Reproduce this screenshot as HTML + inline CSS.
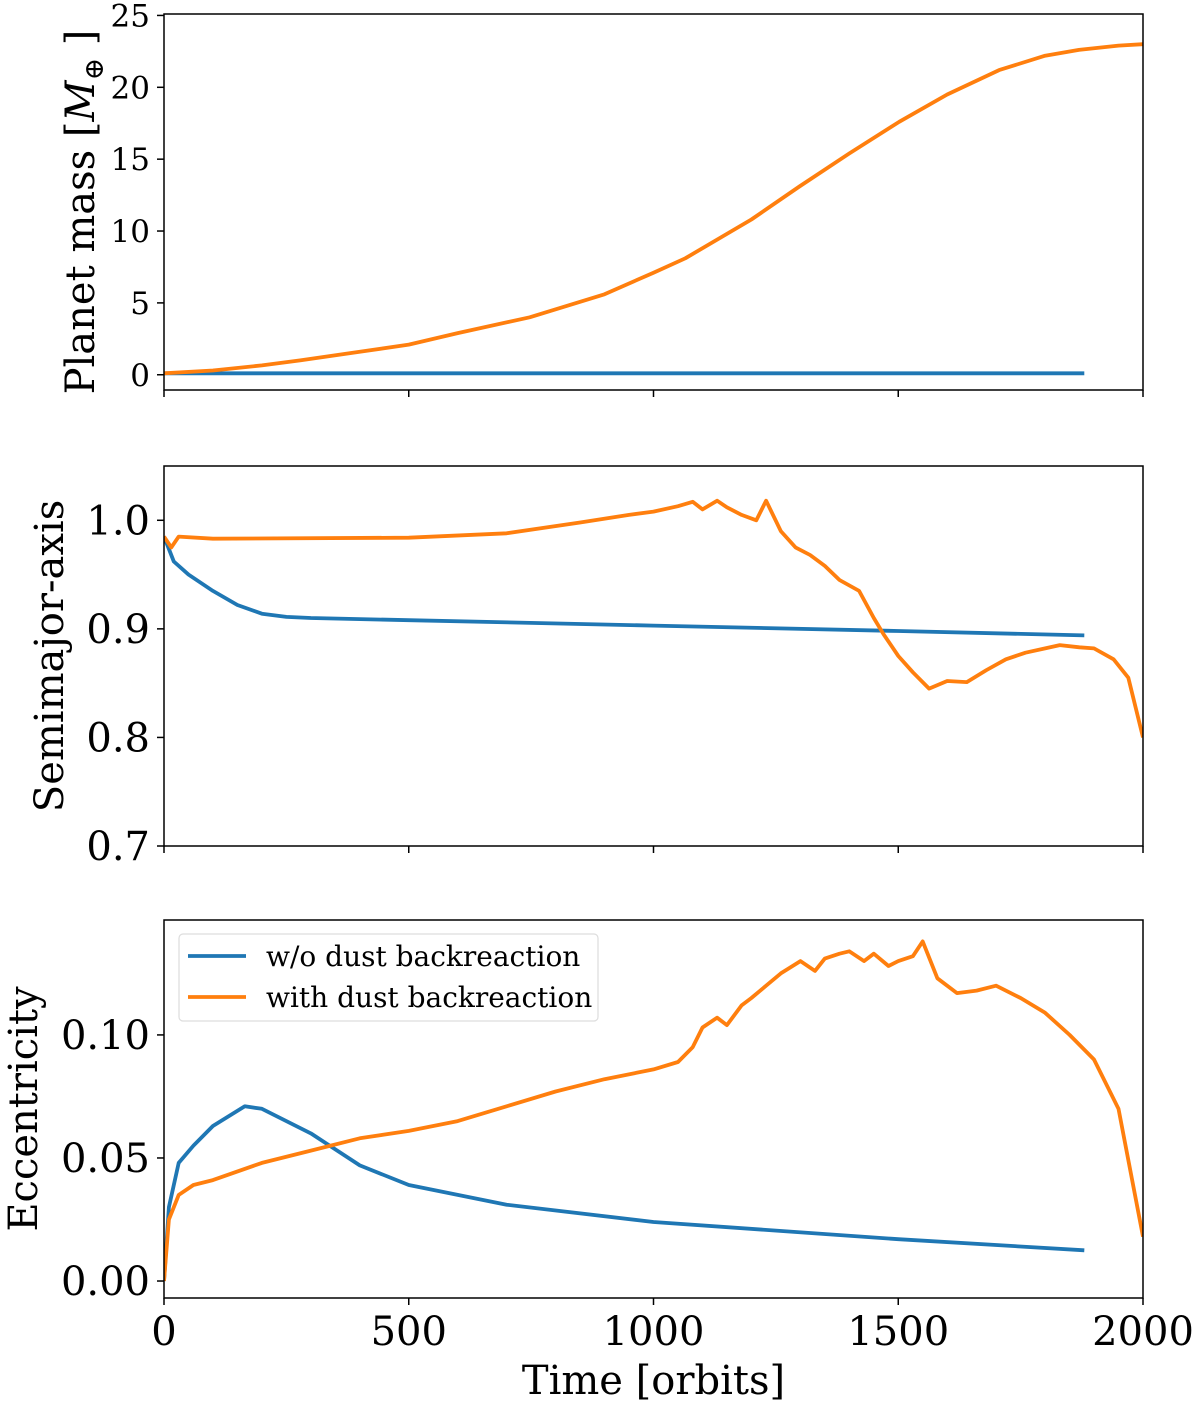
<!DOCTYPE html>
<html><head><meta charset="utf-8"><style>
html,body{margin:0;padding:0;background:#fff}
svg text{font-family:"DejaVu Serif","Liberation Serif",serif;fill:#000}
</style></head><body>
<svg id="fig" width="1200" height="1405" xmlns="http://www.w3.org/2000/svg"></svg>
<script>
// Panel 1 data: planet mass
const massT = [0,100,200,278,400,500,600,747,900,1000,1065,1200,1298,1400,1502,1600,1706,1800,1869,1950,2000];
const massOrange = [0.1,0.3,0.65,1.0,1.6,2.1,2.9,4.0,5.6,7.1,8.1,10.8,13.1,15.4,17.6,19.5,21.2,22.2,22.6,22.9,23.0];
const massBlueT = [0,1880];
const massBlue = [0.1,0.1];
// Panel 2 data: semimajor axis
const aBlueT = [0,20,50,100,150,200,250,300,500,1000,1500,1880];
const aBlue = [0.985,0.962,0.95,0.935,0.922,0.914,0.911,0.910,0.908,0.903,0.898,0.894];
const aOrT = [0,15,30,100,500,700,850,950,1000,1050,1080,1100,1130,1150,1180,1210,1230,1260,1290,1320,1350,1380,1420,1450,1470,1500,1530,1563,1600,1640,1680,1720,1760,1800,1830,1870,1900,1940,1970,2000];
const aOrange = [0.985,0.975,0.985,0.983,0.984,0.988,0.998,1.005,1.008,1.013,1.017,1.010,1.018,1.012,1.005,1.000,1.018,0.99,0.975,0.968,0.958,0.945,0.935,0.91,0.895,0.875,0.86,0.845,0.852,0.851,0.862,0.872,0.878,0.882,0.885,0.883,0.882,0.872,0.855,0.80];
// Panel 3 data: eccentricity
const eBlueT = [0,10,30,60,100,165,200,300,400,500,700,1000,1500,1880];
const eBlue = [0,0.03,0.048,0.055,0.063,0.071,0.070,0.060,0.047,0.039,0.031,0.024,0.017,0.0125];
const eOrT = [0,10,30,60,100,200,300,400,500,600,700,800,900,1000,1050,1080,1100,1130,1150,1180,1200,1230,1260,1300,1330,1350,1380,1400,1430,1450,1480,1500,1530,1550,1580,1620,1660,1700,1750,1800,1850,1900,1950,2000];
const eOrange = [0,0.025,0.035,0.039,0.041,0.048,0.053,0.058,0.061,0.065,0.071,0.077,0.082,0.086,0.089,0.095,0.103,0.107,0.104,0.112,0.115,0.120,0.125,0.130,0.126,0.131,0.133,0.134,0.130,0.133,0.128,0.130,0.132,0.138,0.123,0.117,0.118,0.120,0.115,0.109,0.100,0.090,0.070,0.018];
const xTicks = [0,500,1000,1500,2000];
const massTicks = [0,5,10,15,20,25];
const aTicks = [0.7,0.8,0.9,1.0];
const aTickLabels = ["0.7","0.8","0.9","1.0"];
const eTicks = [0,0.05,0.10];
const eTickLabels = ["0.00","0.05","0.10"];

const NS="http://www.w3.org/2000/svg";
const svg=document.getElementById('fig');
function el(tag,attrs,parent){const e=document.createElementNS(NS,tag);for(const k in attrs)e.setAttribute(k,attrs[k]);(parent||svg).appendChild(e);return e;}
const X0=164,X1=1143;
const xs=t=>X0+(t-0)/(2000)*(X1-X0);
const panels=[
 {top:14,bot:390,ymin:-1.06,ymax:25.1,ticks:massTicks,labels:massTicks.map(String),label:"Planet mass [M⊕]",name:"mass-panel"},
 {top:466,bot:846,ymin:0.7,ymax:1.05,ticks:aTicks,labels:aTickLabels,label:"Semimajor-axis",name:"semimajor-panel"},
 {top:920,bot:1298,ymin:-0.0069,ymax:0.1467,ticks:eTicks,labels:eTickLabels,label:"Eccentricity",name:"eccentricity-panel"}
];
panels.forEach((p,i)=>{
 const g=el('g',{});
 
 
 const ys=v=>p.bot-(v-p.ymin)/(p.ymax-p.ymin)*(p.bot-p.top);
 p.ys=ys;p.g=g;
 p.ticks.forEach((v,j)=>{
  const y=ys(v);
  el('line',{x1:X0-7,x2:X0,y1:y,y2:y,stroke:'#000','stroke-width':1.5},g);
  const t=el('text',{x:X0-14,y:y+(i==0?11:14),'text-anchor':'end','font-size':(i==0?31:40)},g);
  t.textContent=p.labels[j];
  
  
 });
 xTicks.forEach(v=>{
  const x=xs(v);
  el('line',{x1:x,x2:x,y1:p.bot,y2:p.bot+7,stroke:'#000','stroke-width':1.5},g);
  if(i==2){
   const t=el('text',{x:x,y:p.bot+47,'text-anchor':'middle','font-size':40},g);
   t.textContent=String(v);
   
   
  }
 });
 const cy=(p.top+p.bot)/2+(i==0?10:0);
 const lx=i==0?94:(i==1?63:37);
 const yl=el('text',{x:lx,y:cy,'text-anchor':'middle','font-size':40,transform:`rotate(-90 ${lx} ${cy})`},g);
 if(i==0){yl.innerHTML='Planet mass [<tspan font-style="italic">M</tspan><tspan font-size="27" dy="9">⊕</tspan><tspan dy="-9"> ]</tspan>';}
 else yl.textContent=p.label;
 
 
});
function line(p,T,V,color,name){
 const d=T.map((t,k)=>(k?'L':'M')+xs(t).toFixed(1)+','+p.ys(V[k]).toFixed(1)).join(' ');
 const e=el('path',{d:d,fill:'none',stroke:color,'stroke-width':3.8,'stroke-linejoin':'round','clip-path':'url(#c'+panels.indexOf(p)+')'},p.g);
 
 
}
const defs=el('defs',{});
panels.forEach((p,i)=>{const c=el('clipPath',{id:'c'+i},defs);el('rect',{x:X0,y:p.top,width:X1-X0,height:p.bot-p.top},c);});
line(panels[0],massBlueT,massBlue,'#1f77b4','mass-line-without-backreaction');
line(panels[0],massT,massOrange,'#ff7f0e','mass-line-with-backreaction');
line(panels[1],aBlueT,aBlue,'#1f77b4','semimajor-line-without-backreaction');
line(panels[1],aOrT,aOrange,'#ff7f0e','semimajor-line-with-backreaction');
line(panels[2],eBlueT,eBlue,'#1f77b4','eccentricity-line-without-backreaction');
line(panels[2],eOrT,eOrange,'#ff7f0e','eccentricity-line-with-backreaction');
panels.forEach(p=>{
 const r=el('rect',{x:X0,y:p.top,width:X1-X0,height:p.bot-p.top,fill:'none',stroke:'#000','stroke-width':1.5},p.g);
 
 
});
const lg=el('g',{});


el('rect',{x:179,y:934,width:419,height:87,rx:4,fill:'#fff',stroke:'#ddd','stroke-width':1.2},lg);
[['w/o dust backreaction','#1f77b4',956],['with dust backreaction','#ff7f0e',997]].forEach(([txt,c,y])=>{
 const l=el('line',{x1:188,x2:246,y1:y,y2:y,stroke:c,'stroke-width':3.8},lg);
 
 
 const t=el('text',{x:266,y:y+10,'font-size':28},lg);
 t.textContent=txt;
 
 
});
const xt=el('text',{x:(X0+X1)/2,y:1394,'text-anchor':'middle','font-size':40});
xt.textContent='Time [orbits]';


</script>
</body></html>
